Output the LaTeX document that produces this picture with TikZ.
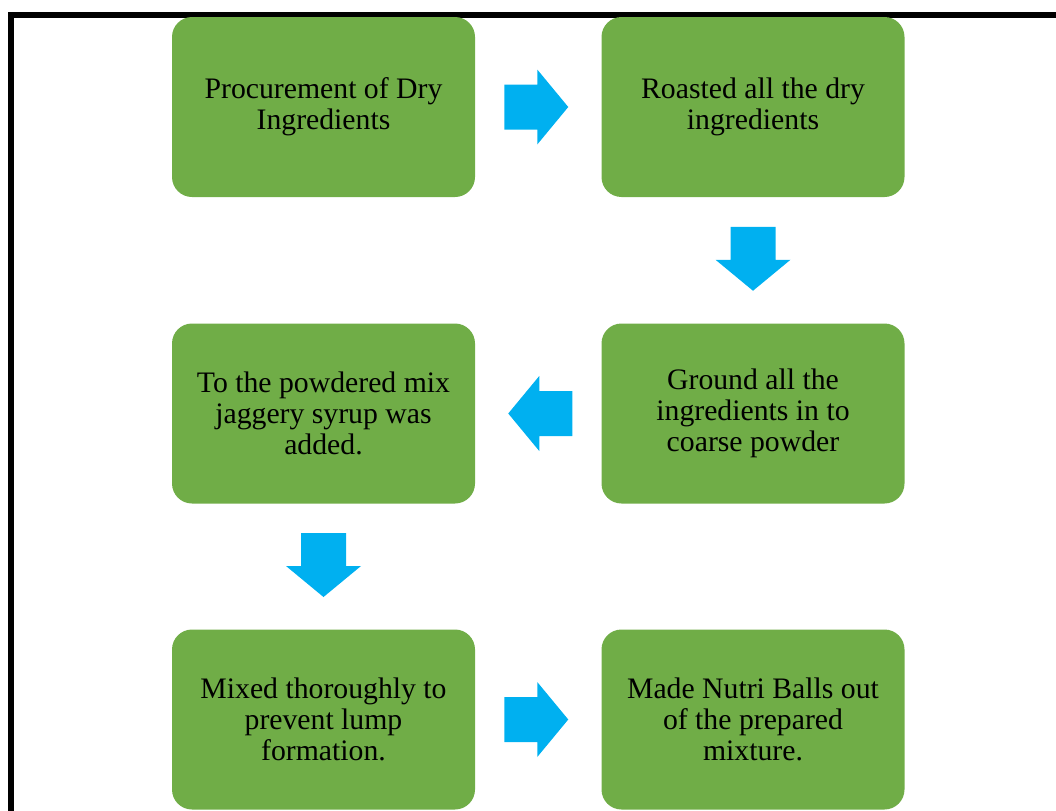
\documentclass[tikz,border=0pt]{standalone}
\usepackage{fontspec}
\setmainfont{Liberation Serif}
\usetikzlibrary{calc}
\definecolor{stepgreen}{HTML}{70AD47}
\definecolor{arrowblue}{HTML}{00B0F0}
\begin{document}
\begin{tikzpicture}[x=0.75pt,y=-0.75pt,
  stepbox/.style={fill=stepgreen, rounded corners=15pt, minimum width=227.25pt,
    minimum height=135pt, align=center, inner sep=0pt,
    font=\fontsize{22.3}{23.3}\selectfont},
  flowarrow/.pic={\fill[arrowblue] (-32,-22.5) -- (1,-22.5) -- (1,-37.5) -- (32,0)
    -- (1,37.5) -- (1,22.5) -- (-32,22.5) -- cycle;}]
\clip (0,0) rectangle (1056,810);
% outer frame (runs past the right and bottom edges)
\draw[line width=4.5pt] (11,14.5) rectangle (1090,850);
% process steps
\node[stepbox] (procure) at (323.5,107) {Procurement of Dry\\Ingredients};
\node[stepbox] (roast) at (753,107) {Roasted all the dry\\ingredients};
\node[stepbox] (grind) at (753,413.5) {Ground all the\\ingredients in to\\coarse powder};
\node[stepbox] (syrup) at (323.5,413.5) {To the powdered mix\\jaggery syrup was\\added.};
\node[stepbox] (mix) at (323.5,719.5) {Mixed thoroughly to\\prevent lump\\formation.};
\node[stepbox] (balls) at (753,719.5) {Made Nutri Balls out\\of the prepared\\mixture.};
% block arrows between the steps
\pic at ($(procure.east)!0.5!(roast.west)+(-2,0)$) {flowarrow};
\pic[rotate=-90] at ($(roast.south)!0.5!(grind.north)+(0,-1.5)$) {flowarrow};
\pic[rotate=180] at ($(grind.west)!0.5!(syrup.east)+(2,0)$) {flowarrow};
\pic[rotate=-90] at ($(syrup.south)!0.5!(mix.north)+(0,-1.5)$) {flowarrow};
\pic at ($(mix.east)!0.5!(balls.west)+(-2,0)$) {flowarrow};
\end{tikzpicture}
\end{document}
